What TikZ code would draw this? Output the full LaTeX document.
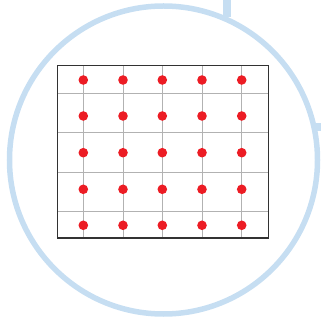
\documentclass[tikz,border=0pt]{standalone}
\begin{document}
\begin{tikzpicture}[x=1pt,y=1pt,
  ring/.style={draw=ringblue,line width=5.5pt},
  stub/.style={draw=ringblue,line width=8pt},
  gridline/.style={draw=gridgray,line width=1pt},
  frame/.style={draw=framegray,line width=1.2pt},
  dot/.style={circle,fill=dotred,inner sep=0pt,minimum size=9.6pt}]
\definecolor{ringblue}{RGB}{198,222,242}
\definecolor{gridgray}{RGB}{178,178,178}
\definecolor{framegray}{RGB}{50,50,50}
\definecolor{dotred}{RGB}{236,28,36}
\useasboundingbox (0,0) rectangle (321,321);
% top and right stubs
\coordinate (ts1) at (226.7,321);
\coordinate (ts2) at (226.7,304);
\draw[stub] (ts1) -- (ts2);
\coordinate (rs1) at (314,194);
\coordinate (rs2) at (322,194);
\draw[stub] (rs1) -- (rs2);
% ring
\node[ring,circle,minimum size=308pt,inner sep=0pt] (ringc) at (163.5,161) {};
% grid
\foreach \y in {227.7,188.3,148.7,109.3} {
  \draw[gridline] (57,\y) -- (268,\y);
}
\foreach \x in {83.3,123,162.3,202,241.7} {
  \draw[gridline] (\x,255) -- (\x,82.3);
}
\node[frame,rectangle,minimum width=211pt,minimum height=172.7pt,inner sep=0pt,anchor=south west] (fr) at (57,82.3) {};
% dots
\foreach \x [count=\i] in {83.3,123,162.3,202,241.7} {
  \foreach \y [count=\j] in {241,205,168.3,131.7,95.7} {
    \node[dot] (d\i\j) at (\x,\y) {};
  }
}
\end{tikzpicture}
\end{document}
